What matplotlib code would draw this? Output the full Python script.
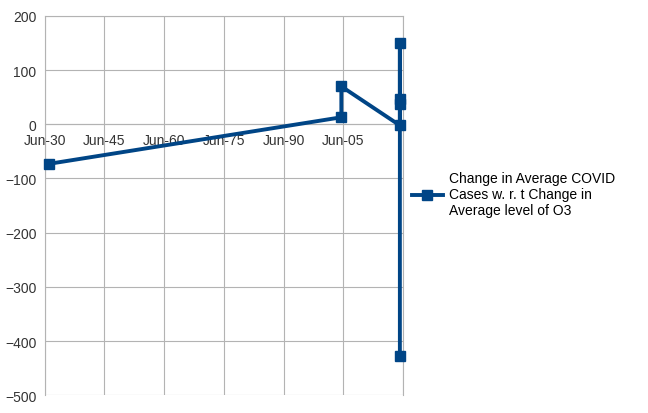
import matplotlib.pyplot as plt

# values
x_vals = [31, 104.5, 104.5, 119.2, 119.2, 119.2, 119.2, 119.2]
y_vals = [-73, 13, 70, -2, 150, 47, 38, -428]
x_ticks = [30, 45, 60, 75, 90, 105, 120]
x_labels = ['Jun-30', 'Jun-45', 'Jun-60', 'Jun-75', 'Jun-90', 'Jun-05', '']
y_ticks = [200, 100, 0, -100, -200, -300, -400, -500]

plt.rcParams['font.family'] = ['Liberation Sans', 'DejaVu Sans']
fig = plt.figure(figsize=(6.48, 4.14), dpi=100)
ax = fig.add_axes([0.069, 0.043, 0.553, 0.916])

ax.plot(x_vals, y_vals, color='#004586', linewidth=2.8, marker='s',
        markersize=7, label='Change in Average COVID\nCases w. r. t Change in\nAverage level of O3',
        clip_on=False, zorder=5)

ax.set_xlim(30, 120)
ax.set_ylim(-500, 200)
ax.set_xticks(x_ticks)
ax.set_xticklabels(x_labels)
ax.set_yticks(y_ticks)
ax.grid(color='#b3b3b3', linewidth=0.8)
for s in ['top', 'right', 'left']:
    ax.spines[s].set_color('#b3b3b3')
ax.spines['bottom'].set_position(('data', 0))
ax.spines['bottom'].set_color('#b3b3b3')
ax.tick_params(length=0, labelsize=10, colors='#333333', pad=6)

ax.legend(loc='center left', bbox_to_anchor=(0.99, 0.53), frameon=False,
          fontsize=10, handlelength=2.2, handletextpad=0.5)

fig.savefig('out.png')
